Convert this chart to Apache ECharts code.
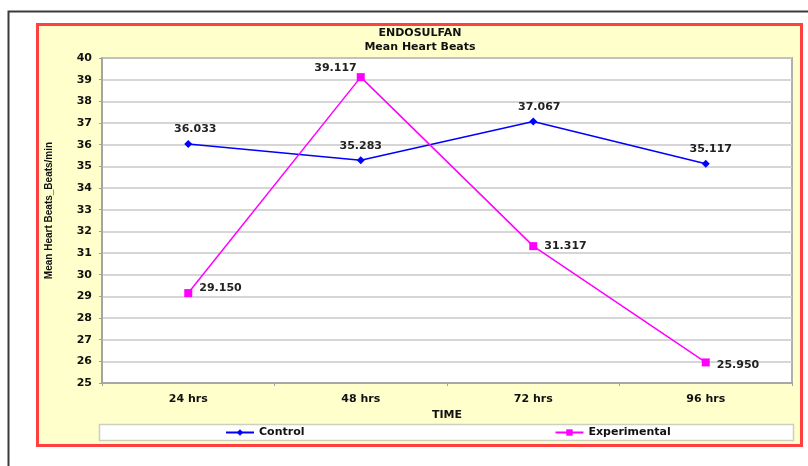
<!DOCTYPE html>
<html>
<head>
<meta charset="utf-8">
<script src="https://cdn.jsdelivr.net/npm/echarts@6/dist/echarts.min.js"></script>
<style>
body{margin:0;background:#fff;}
#chart{width:808px;height:466px;}
</style>
</head>
<body>
<div id="chart"></div>
<script>
var times = ['24 hrs', '48 hrs', '72 hrs', '96 hrs'];
var control = [36.033, 35.283, 37.067, 35.117];
var experimental = [29.150, 39.117, 31.317, 25.950];
var yTicks = [25, 40, 1]; // min, max, step

var font = 'DejaVu Sans, Verdana, sans-serif';
var font2 = 'Liberation Sans, Arial, sans-serif';

var chart = echarts.init(document.getElementById('chart'));

function fmt(p){ return p.value.toFixed(3); }

//数据标签位置微调
var ctrlOffset = [[7, 0], [0, 0], [6, 0], [5, 0]];
var expLabel = [
	{position: 'right', distance: 7, offset: [0, -5]},
	{position: 'left', distance: 0, offset: [0, -9]},
	{position: 'right', distance: 7, offset: [0, 0]},
	{position: 'right', distance: 7, offset: [0, 3]}
];

var ctrlData = control.map(function(v, i){
	return {value: v, label: {offset: ctrlOffset[i]}};
});
var expData = experimental.map(function(v, i){
	return {value: v, label: expLabel[i]};
});

var option = {
	animation: false,
	backgroundColor: '#fff',
	graphic: [
		//外框
		{type:'rect', z:-10, shape:{x:8.5, y:11.5, width:830, height:480},
			style:{fill:'#fff', stroke:'#3a3a3a', lineWidth:2}},
		//红色边框
		{type:'rect', z:-9, shape:{x:37.5, y:24.5, width:764, height:421},
			style:{fill:'#ffffcc', stroke:'#ff4040', lineWidth:3}},
		//图例框
		{type:'rect', z:-8, shape:{x:99.5, y:424.5, width:694, height:16},
			style:{fill:'#fff', stroke:'#cfcfc0', lineWidth:1.5}}
	],
	title: {
		text: 'ENDOSULFAN\nMean Heart Beats',
		left: 420,
		textAlign: 'center',
		top: 26,
		padding: 0,
		textStyle: {fontFamily: font, fontSize: 11, fontWeight: 'bold', color: '#111', lineHeight: 14}
	},
	legend: {
		data: ['Control', 'Experimental'],
		left: 225,
		top: 427,
		itemGap: 250,
		itemWidth: 28,
		itemHeight: 8,
		padding: 0,
		textStyle: {fontFamily: font, fontSize: 11, fontWeight: 'bold', color: '#111'}
	},
	grid: {
		left: 102,
		right: 16,
		top: 58,
		bottom: 83,
		show: true,
		backgroundColor: '#fff',
		borderColor: '#b0b0b0',
		borderWidth: 2
	},
	xAxis: {
		type: 'category',
		data: times,
		boundaryGap: true,
		name: 'TIME',
		nameLocation: 'middle',
		nameGap: 24,
		nameTextStyle: {fontFamily: font, fontSize: 11, fontWeight: 'bold', color: '#111'},
		axisLine: {lineStyle: {color: '#a0a0a0', width: 1.5}},
		axisTick: {show: true, length: 3, lineStyle: {color: '#a0a0a0'}},
		axisLabel: {fontFamily: font, fontSize: 11, fontWeight: 'bold', color: '#111', margin: 11}
	},
	yAxis: {
		type: 'value',
		min: yTicks[0],
		max: yTicks[1],
		interval: yTicks[2],
		name: 'Mean Heart Beats_Beats/min',
		nameLocation: 'middle',
		nameRotate: 90,
		nameGap: 48,
		nameTextStyle: {fontFamily: font2, fontSize: 10, fontWeight: 'bold', color: '#111', padding: [0, 0, 0, 20]},
		axisLine: {show: true, lineStyle: {color: '#a0a0a0', width: 1.5}},
		axisTick: {show: true, length: 3, lineStyle: {color: '#a0a0a0'}},
		axisLabel: {fontFamily: font, fontSize: 11, fontWeight: 'bold', color: '#111', margin: 10},
		splitLine: {show: true, lineStyle: {color: '#c8c8c8', width: 1.5}}
	},
	series: [
		{
			name: 'Control',
			type: 'line',
			data: ctrlData,
			symbol: 'diamond',
			symbolSize: 8,
			color: '#0000ff',
			lineStyle: {width: 1.5, color: '#0000ff'},
			itemStyle: {color: '#0000ff'},
			label: {show: true, position: 'top', distance: 5, formatter: fmt,
				fontFamily: font, fontSize: 11, fontWeight: 'bold', color: '#222'}
		},
		{
			name: 'Experimental',
			type: 'line',
			data: expData,
			symbol: 'rect',
			symbolSize: 8,
			color: '#ff00ff',
			lineStyle: {width: 1.5, color: '#ff00ff'},
			itemStyle: {color: '#ff00ff'},
			label: {show: true, position: 'right', distance: 7, formatter: fmt,
				fontFamily: font, fontSize: 11, fontWeight: 'bold', color: '#222'}
		}
	]
};

chart.setOption(option);
</script>
</body>
</html>
